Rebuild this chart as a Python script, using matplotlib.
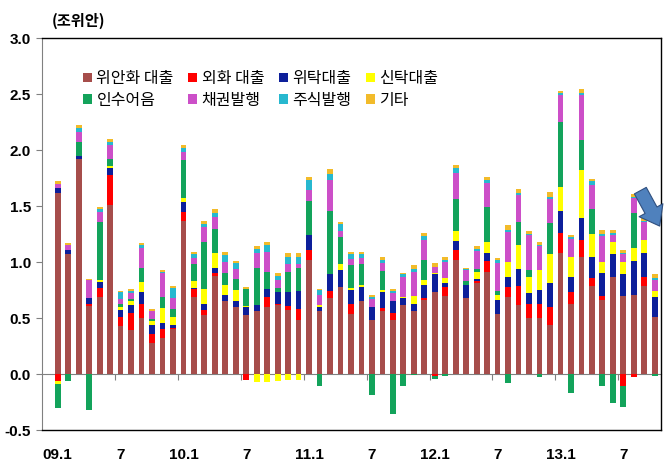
import numpy as np
import matplotlib
matplotlib.use("Agg")
import matplotlib.pyplot as plt

plt.rcParams['font.family'] = ['Noto Sans CJK KR', 'DejaVu Sans']

# monthly, 09.1 .. 13.10 (조위안)
months = [f"{y}.{m}" for y in range(9, 14) for m in range(1, 13)][:58]
tick_labels = ['09.1', '7', '10.1', '7', '11.1', '7', '12.1', '7', '13.1', '7']

rmb = [1.62, 1.07, 1.92, 0.61, 0.69, 1.51, 0.43, 0.39, 0.50, 0.28, 0.32, 0.40,
       1.37, 0.69, 0.53, 0.88, 0.65, 0.60, 0.53, 0.56, 0.60, 0.62, 0.57, 0.48,
       1.02, 0.56, 0.68, 0.78, 0.54, 0.65, 0.48, 0.56, 0.48, 0.62, 0.56, 0.66,
       0.73, 0.70, 1.02, 0.68, 0.81, 0.91, 0.54, 0.69, 0.62, 0.50, 0.50, 0.44,
       1.08, 0.63, 1.05, 0.79, 0.66, 0.87, 0.70, 0.71, 0.79, 0.51]
fx = [-0.06, 0, 0, 0.02, 0.08, 0.27, 0.08, 0.16, 0.13, 0.08, 0.08, 0.01,
      0.08, 0.07, 0.04, 0.02, 0, 0, -0.05, 0, 0.09, 0.01, 0.04, 0.10,
      0.09, 0, 0.06, 0, 0.09, 0, 0, 0.03, 0.07, 0, 0, 0.02,
      -0.02, 0.08, 0.09, 0, 0.02, 0.10, 0, 0.09, 0.17, 0.13, 0.13, 0.16,
      0.18, 0.10, 0.15, 0.07, 0.04, 0, -0.11, -0.03, 0.08, 0]
entrusted = [0.04, 0.04, 0.03, 0.05, 0.05, 0.06, 0.06, 0.07, 0.10, 0.08, 0.06, 0.03,
             0.09, 0.01, 0.06, 0.05, 0.06, 0.05, 0.07, 0.06, 0.07, 0.10, 0.12, 0.16,
             0.13, 0.04, 0.15, 0.15, 0.12, 0.13, 0.12, 0.14, 0.10, 0.06, 0.07, 0.12,
             0.16, 0.03, 0.08, 0.12, 0.02, 0.07, 0.12, 0.09, 0.15, 0.09, 0.12, 0.21,
             0.20, 0.14, 0.19, 0.19, 0.20, 0.20, 0.19, 0.30, 0.21, 0.18]
trust = [-0.03, 0, 0, 0, 0.02, 0.02, 0.03, 0.03, 0.09, 0.03, 0.13, 0.07,
         0.03, 0.06, 0.13, 0.13, 0.09, 0.10, 0.01, -0.07, -0.07, -0.06, -0.05, -0.05,
         0, 0.02, 0, 0.05, 0.02, 0.02, 0, 0.02, 0, 0.01, 0.07, 0.04,
         0.01, 0.05, 0.09, 0, 0.06, 0.10, 0.05, 0.13, 0.21, 0.15, 0.18, 0.26,
         0.21, 0.18, 0.43, 0.20, 0.10, 0.11, 0.11, 0.12, 0.12, 0.05]
acceptance = [-0.21, -0.06, 0.12, -0.32, 0.52, 0.06, 0.03, 0.02, 0.13, 0.02, 0.10, 0.07,
              0.34, 0.15, 0.42, 0.22, 0.10, 0.10, 0.15, 0.33, 0.15, 0.04, 0.18, 0.21,
              0.31, -0.11, 0.57, 0.24, 0.20, 0.18, -0.19, 0.17, -0.36, -0.11, -0.01, 0.18,
              -0.02, -0.02, 0.28, 0.03, 0.03, 0.31, 0.03, -0.08, 0.21, 0.06, -0.03, 0.28,
              0.58, -0.17, 0.27, 0.22, -0.11, -0.26, -0.18, 0.31, 0, -0.02]
bond = [0.04, 0.04, 0.09, 0.16, 0.09, 0.13, 0.04, 0.05, 0.18, 0.07, 0.21, 0.10,
        0.07, 0.06, 0.13, 0.10, 0.10, 0.09, 0, 0.13, 0.18, 0.07, 0.07, 0.03,
        0.09, 0.09, 0.27, 0.06, 0.06, 0.06, 0.07, 0.07, 0.07, 0.18, 0.21, 0.18,
        0.06, 0.14, 0.24, 0.10, 0.16, 0.22, 0.25, 0.27, 0.24, 0.31, 0.21, 0.21,
        0.24, 0.16, 0.40, 0.22, 0.23, 0.06, 0.07, 0.13, 0.16, 0.10]
equity = [0, 0, 0.04, 0, 0.02, 0.02, 0.06, 0.02, 0.02, 0, 0.01, 0.09,
          0.04, 0.03, 0.03, 0.04, 0.06, 0.05, 0, 0.04, 0.06, 0.04, 0.07, 0.07,
          0.09, 0.04, 0.06, 0.06, 0.04, 0.03, 0.02, 0.03, 0.02, 0.02, 0.03, 0.03,
          0, 0.02, 0.04, 0.01, 0.02, 0.02, 0.03, 0.02, 0.02, 0.01, 0.01, 0.02,
          0.02, 0.01, 0.02, 0.03, 0.02, 0.02, 0.01, 0.01, 0.01, 0.02]
other = [0.02, 0.02, 0.02, 0.01, 0.02, 0.03, 0.01, 0.02, 0.02, 0.02, 0.02, 0.02,
         0.03, 0.02, 0.03, 0.03, 0.03, 0.02, 0.02, 0.02, 0.03, 0.02, 0.03, 0.03,
         0.03, 0.01, 0.04, 0.02, 0.02, 0.02, 0.02, 0.03, 0.02, 0.01, 0.03, 0.03,
         0.03, 0.03, 0.03, 0.01, 0.02, 0.03, 0.02, 0.04, 0.03, 0.03, 0.03, 0.05,
         0.02, 0.02, 0.04, 0.02, 0.04, 0.03, 0.03, 0.03, 0.04, 0.03]

series = [rmb, fx, entrusted, trust, acceptance, bond, equity, other]
names = ['위안화 대출', '외화 대출', '위탁대출', '신탁대출',
         '인수어음', '채권발행', '주식발행', '기타']
colors = ['#A64D4B', '#FF0000', '#0D1F9A', '#FFFF00',
          '#13A35B', '#CC4FC8', '#27B8CF', '#F2BB2A']

fig = plt.figure(figsize=(6.67, 4.67), dpi=100)
ax = fig.add_axes([0.063, 0.079, 0.928, 0.8394])

x = np.arange(len(months))
pos_base = np.zeros(len(x))
neg_base = np.zeros(len(x))
handles = []
for vals, name, c in zip(series, names, colors):
    v = np.array(vals, dtype=float)
    p = np.where(v > 0, v, 0)
    n = np.where(v < 0, v, 0)
    h = ax.bar(x, p, 0.55, bottom=pos_base, color=c, label=name, linewidth=0)
    ax.bar(x, n, 0.55, bottom=neg_base, color=c, linewidth=0)
    pos_base += p
    neg_base += n
    handles.append(h)

ax.set_xlim(-1.5, 57.6)
ax.set_ylim(-0.5, 3.0)
ax.set_yticks(np.arange(-0.5, 3.01, 0.5))
ax.set_yticklabels([f"{t:.1f}" for t in np.arange(-0.5, 3.01, 0.5)],
                   fontfamily='Liberation Sans', fontweight='bold', fontsize=11)
ax.tick_params(axis='y', direction='out', length=4, width=0.8, color='#808080', pad=4)

ax.set_xticks(x[::6])
ax.set_xticklabels(tick_labels, fontfamily='Liberation Sans', fontweight='bold', fontsize=11)
ax.tick_params(axis='x', length=0, pad=13)

for s in ['top', 'right', 'bottom']:
    ax.spines[s].set_color('black')
    ax.spines[s].set_linewidth(1.0)
ax.spines['left'].set_color('#808080')
ax.spines['left'].set_linewidth(0.8)

# category axis crossing at zero with tick marks between groups
zero_axis = ax.secondary_xaxis(0.5 / 3.5)
zero_axis.set_xticks(x[5::6] + 0.5)
zero_axis.tick_params(axis='x', direction='out', length=4, width=0.8,
                      color='#808080', labelbottom=False)
zero_axis.spines['bottom'].set_color('#808080')
zero_axis.spines['bottom'].set_linewidth(0.8)

# legend fills row by row like the original (matplotlib fills by column)
order = [0, 4, 1, 5, 2, 6, 3, 7]
ax.legend(handles=[handles[i] for i in order], ncol=4, loc='upper left',
          bbox_to_anchor=(0.066, 0.918), borderaxespad=0, borderpad=0,
          frameon=False, handlelength=0.55, handleheight=0.55,
          handletextpad=0.3, columnspacing=0.9, labelspacing=0.28,
          prop={'family': ['Noto Sans CJK KR', 'DejaVu Sans'], 'size': 11.5})

fig.text(0.078, 0.955, '(조위안)', fontsize=11, fontweight='bold', va='center')

ax.annotate('', xy=(57.6, 1.30), xytext=(55.5, 1.66), annotation_clip=False,
            arrowprops=dict(arrowstyle='simple,head_width=1.5,head_length=1.0,tail_width=0.75',
                            mutation_scale=13,
                            facecolor='#4F81BD', edgecolor='#2F4F7F', linewidth=0.8))

fig.savefig('out.png', dpi=100)
